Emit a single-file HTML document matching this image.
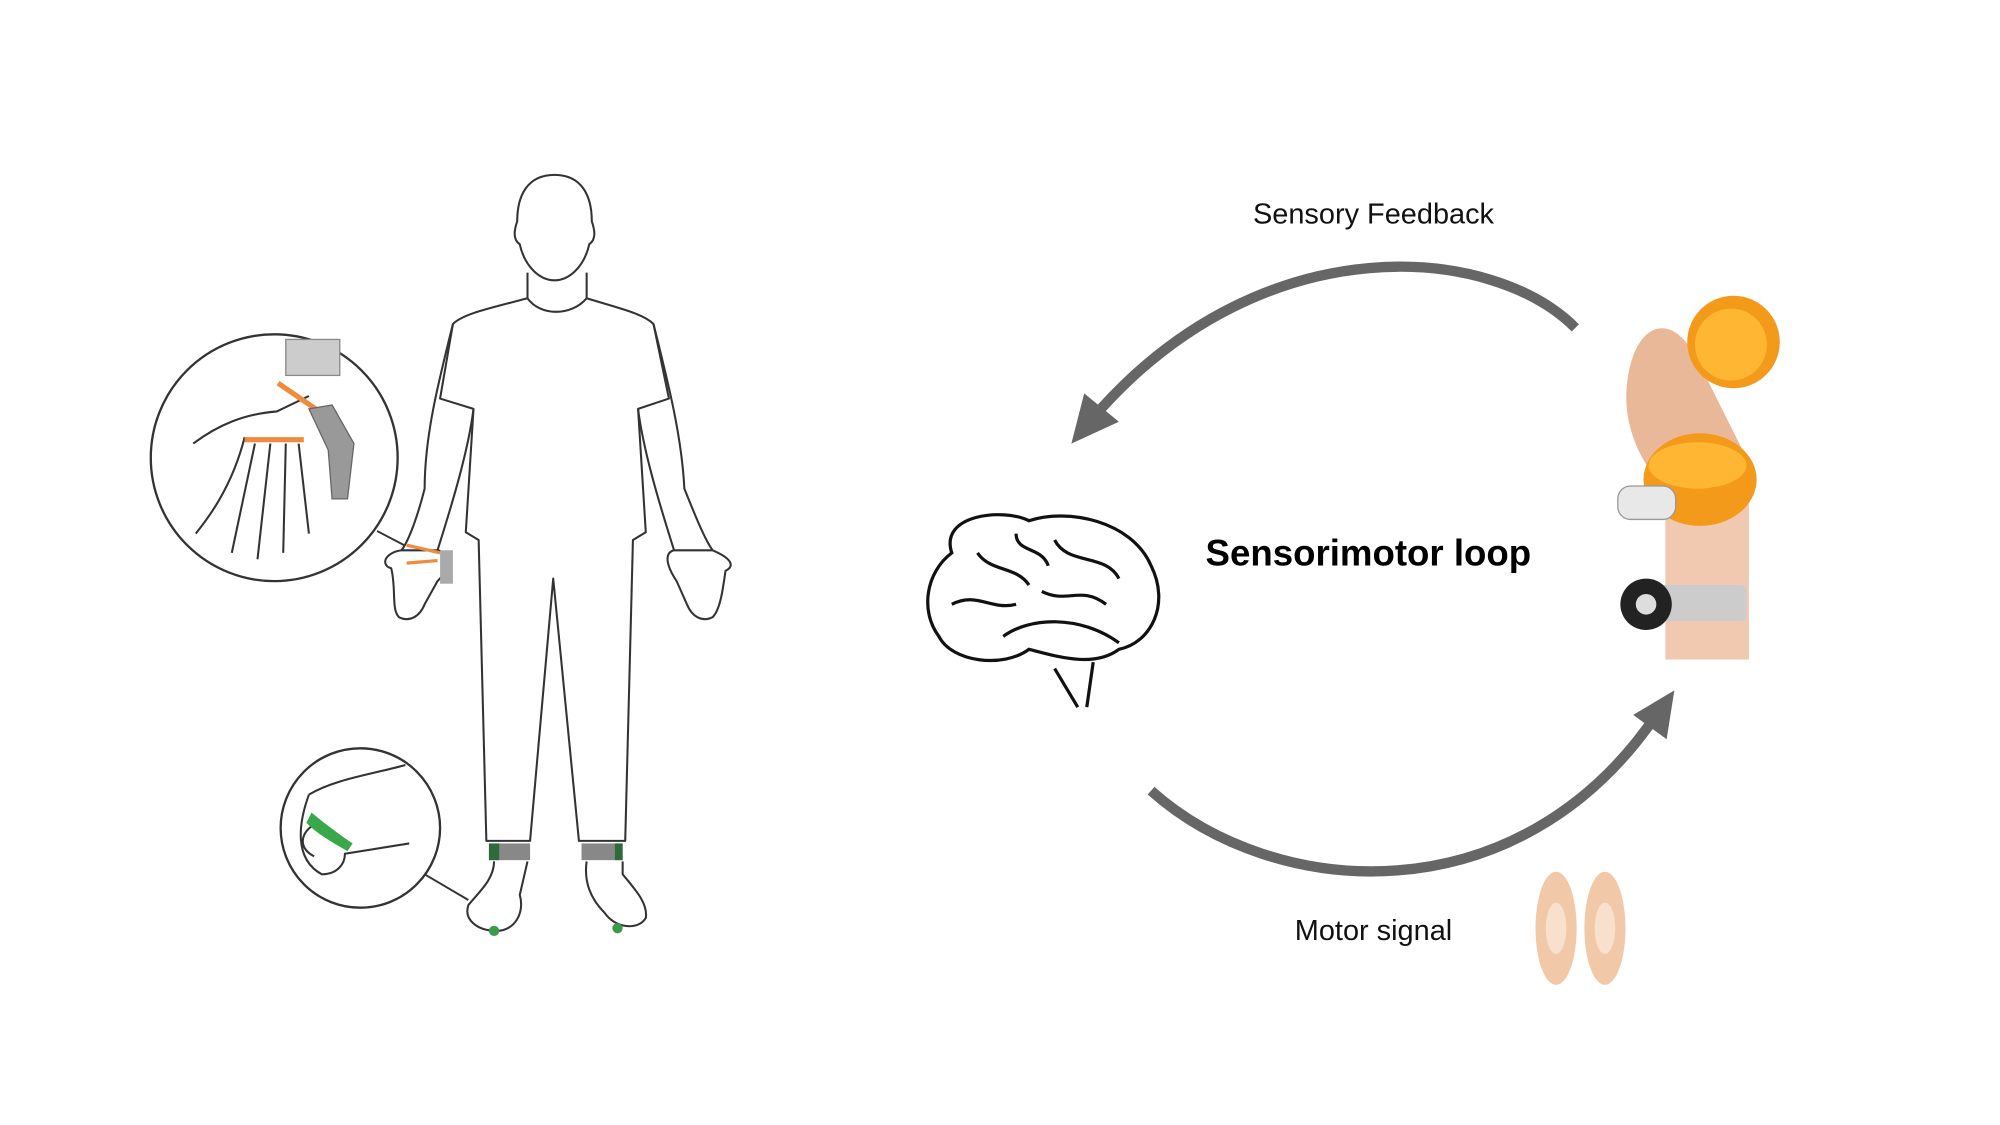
<!DOCTYPE html>
<html><head><meta charset="utf-8"><style>
html,body{margin:0;padding:0;background:#fff;}
svg{display:block}
text{font-family:"Liberation Sans",Arial,sans-serif;}
</style></head><body>
<svg width="2000" height="1125" viewBox="0 0 1555 875" xmlns="http://www.w3.org/2000/svg">
<rect width="1555" height="875" fill="#fff"/>
<g fill="none" stroke="#333" stroke-width="1.6" stroke-linejoin="round">
<path d="M431 136 C410 136 402 152 402 172 C400 178 398 186 404 190 C408 208 420 218 431 218 C442 218 454 208 458 190 C464 186 462 178 460 172 C460 152 452 136 431 136 Z"/>
<path d="M410 212 L410 232 C380 240 360 244 352 252 L342 310 L368 318 L362 414 L372 420 L378 654 L412 654 L430 450 L450 654 L486 654 L492 420 L502 414 L496 318 L520 310 L508 252 C500 244 482 240 456 232 L456 212"/>
<path d="M410 232 C420 246 444 246 456 232"/>
<path d="M352 252 C340 300 330 340 330 380 C325 400 318 420 312 428"/>
<path d="M368 318 C364 350 352 390 340 428"/>
<path d="M508 252 C520 300 530 340 532 380 C540 400 548 420 554 428"/>
<path d="M496 318 C500 350 512 390 524 428"/>
<path d="M312 428 C298 430 296 440 304 442 C308 458 304 474 310 480 C318 484 326 480 330 470 L340 452 C352 440 350 430 340 428 Z"/>
<path d="M554 428 C568 434 572 440 564 444 C562 458 560 474 554 480 C546 484 538 480 534 470 L526 452 C518 440 516 430 524 428 Z"/>
<path d="M384 670 C384 684 372 694 364 704 C360 716 372 724 386 724 C400 724 408 710 404 696 L410 670"/>
<path d="M456 670 C454 684 458 698 470 710 C478 722 496 724 502 714 C504 702 492 690 484 680 L484 670"/>
</g>
<rect x="380" y="656" width="32" height="13" fill="#888"/>
<rect x="380" y="656" width="8" height="13" fill="#2e6b3a"/>
<rect x="452" y="656" width="32" height="13" fill="#888"/>
<rect x="478" y="656" width="6" height="13" fill="#2e6b3a"/>
<path d="M316 424 L342 430 M316 438 L340 436" stroke="#f08a3c" stroke-width="2.5"/>
<rect x="342" y="428" width="10" height="26" fill="#aaa"/>
<circle cx="384" cy="724" r="4" fill="#3a9b4a"/>
<circle cx="480" cy="722" r="4" fill="#3a9b4a"/>
<line x1="293" y1="413" x2="314" y2="424" stroke="#333" stroke-width="1.5"/>
<circle cx="213" cy="356" r="96" fill="#fff" stroke="#333" stroke-width="1.8"/>
<g fill="none" stroke="#333" stroke-width="1.6">
<path d="M150 345 C170 330 190 322 215 320 L240 308 M190 340 C180 380 160 405 152 415 M198 345 L180 430 M210 345 L200 435 M222 345 L220 430 M232 345 L240 415"/>
</g>
<rect x="222" y="264" width="42" height="28" fill="#ccc" stroke="#888"/>
<path d="M216 298 L248 320 M190 342 L236 342" stroke="#f08a3c" stroke-width="4"/>
<path d="M240 318 L258 315 L275 345 L270 388 L258 388 L255 350 Z" fill="#999" stroke="#666"/>
<line x1="330" y1="680" x2="364" y2="700" stroke="#333" stroke-width="1.5"/>
<circle cx="280" cy="644" r="62" fill="#fff" stroke="#333" stroke-width="1.8"/>
<g fill="none" stroke="#333" stroke-width="1.6">
<path d="M240 618 C260 606 290 602 315 595 M240 618 C232 640 228 668 250 680 C262 680 268 672 268 664 L318 656 M246 640 C232 648 232 660 244 666"/>
</g>
<path d="M242 632 C252 640 262 648 274 656 L270 662 C256 654 246 648 238 640 Z" fill="#3aa84a"/>
<g fill="none" stroke="#666" stroke-width="8">
<path d="M1225 255 C1160 190 985 175 856 318"/>
<path d="M895 615 C990 700 1180 715 1288 556"/>
</g>
<polygon points="833,345 843,306 870,328" fill="#666"/>
<polygon points="1302,537 1296,575 1270,556" fill="#666"/>
<text x="1068" y="174" font-size="22.5" text-anchor="middle" fill="#111">Sensory Feedback</text>
<text x="1064" y="440" font-size="28.5" font-weight="bold" text-anchor="middle" fill="#000">Sensorimotor loop</text>
<text x="1068" y="731" font-size="22.5" text-anchor="middle" fill="#111">Motor signal</text>
<g fill="none" stroke="#111" stroke-width="2.5">
<path d="M740 430 C730 400 780 395 800 405 C830 395 880 405 895 440 C910 470 895 500 870 505 C850 520 820 510 800 505 C780 520 740 515 730 495 C715 475 720 445 740 430 Z"/>
<path d="M780 495 C800 480 840 478 870 500 M820 520 L838 550 M850 515 L845 550 M760 430 C770 445 790 440 800 455 M820 420 C830 440 860 430 870 450 M740 470 C760 460 770 475 790 470 M810 460 C830 470 840 455 860 470 M790 415 C790 430 810 425 815 440"/>
</g>
<rect x="1295" y="360" width="65" height="153" fill="#f0c9b0"/>
<path d="M1265 300 C1270 250 1300 240 1320 280 L1340 320 L1360 360 L1295 380 C1275 360 1262 330 1265 300 Z" fill="#e8b898"/>
<circle cx="1348" cy="266" r="36" fill="#f39a1a"/>
<circle cx="1346" cy="268" r="28" fill="#ffb733"/>
<ellipse cx="1322" cy="373" rx="44" ry="36" fill="#f39a1a"/>
<ellipse cx="1320" cy="362" rx="38" ry="18" fill="#ffb733"/>
<rect x="1258" y="378" width="45" height="26" rx="10" fill="#e8e8e8" stroke="#999"/>
<rect x="1290" y="455" width="68" height="28" rx="4" fill="#ccc"/>
<circle cx="1280" cy="470" r="20" fill="#222"/>
<circle cx="1280" cy="470" r="8" fill="#ddd"/>
<ellipse cx="1210" cy="722" rx="16" ry="44" fill="#f2c9a8"/>
<ellipse cx="1248" cy="722" rx="16" ry="44" fill="#f2c9a8"/>
<ellipse cx="1210" cy="722" rx="8" ry="20" fill="#f8e0cc"/>
<ellipse cx="1248" cy="722" rx="8" ry="20" fill="#f8e0cc"/>
</svg>
</body></html>
